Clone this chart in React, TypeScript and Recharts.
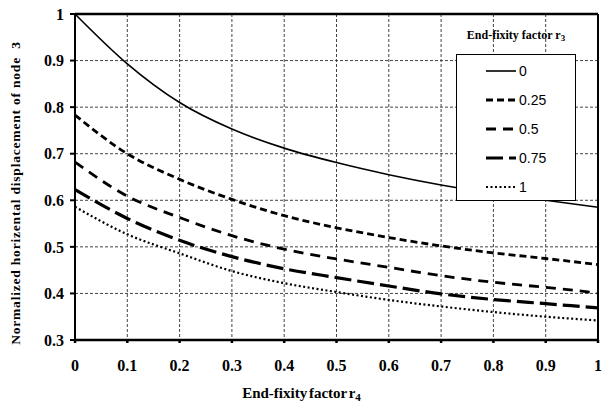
import { CartesianGrid, Legend, Line, LineChart, ReferenceLine, XAxis, YAxis } from "recharts";

const r4 = [0, 0.1, 0.2, 0.3, 0.4, 0.5, 0.6, 0.7, 0.8, 0.9, 1];
const r3Labels = ["0", "0.25", "0.5", "0.75", "1"];

const disp0 = [1.0, 0.893, 0.81, 0.753, 0.712, 0.681, 0.655, 0.633, 0.615, 0.6, 0.585];
const disp025 = [0.783, 0.7, 0.645, 0.602, 0.567, 0.541, 0.52, 0.502, 0.487, 0.475, 0.462];
const disp05 = [0.682, 0.609, 0.563, 0.524, 0.495, 0.474, 0.456, 0.438, 0.424, 0.413, 0.401];
const disp075 = [0.623, 0.561, 0.514, 0.479, 0.453, 0.434, 0.416, 0.399, 0.387, 0.378, 0.369];
const disp1 = [0.586, 0.527, 0.486, 0.448, 0.422, 0.403, 0.386, 0.372, 0.36, 0.35, 0.342];

const xTicks = [0, 0.1, 0.2, 0.3, 0.4, 0.5, 0.6, 0.7, 0.8, 0.9, 1];
const yTicks = [0.3, 0.4, 0.5, 0.6, 0.7, 0.8, 0.9, 1];

const data = r4.map((x, i) => ({
  x,
  s0: disp0[i],
  s025: disp025[i],
  s05: disp05[i],
  s075: disp075[i],
  s1: disp1[i],
}));

const series = [
  { key: "s0", dash: undefined, width: 1.6 },
  { key: "s025", dash: "7 4", width: 2.8 },
  { key: "s05", dash: "10 7", width: 2.8 },
  { key: "s075", dash: "17 6", width: 3.2 },
  { key: "s1", dash: "2 2.5", width: 2.2 },
];

const serif = "'Liberation Serif', 'Times New Roman', serif";
const sans = "'Liberation Sans', Arial, sans-serif";

function LegendBox() {
  return (
    <div style={{ width: 150, fontFamily: sans }}>
      <div
        style={{
          marginLeft: 16,
          width: 120,
          height: 32,
          paddingTop: 6,
          boxSizing: "border-box",
          textAlign: "center",
          fontFamily: serif,
          fontWeight: "bold",
          fontSize: 12,
          lineHeight: "14px",
          color: "#000",
        }}
      >
        End-fixity factor r<sub style={{ fontSize: 9, verticalAlign: -2 }}>3</sub>
      </div>
      <div
        style={{
          marginLeft: 16,
          width: 120,
          height: 147,
          boxSizing: "border-box",
          border: "1px solid #000",
          background: "#fff",
          paddingTop: 1.5,
        }}
      >
        {series.map((s, i) => (
          <div
            key={s.key}
            style={{ height: 29, display: "flex", alignItems: "center", paddingLeft: 29 }}
          >
            <svg width={30} height={10}>
              <line
                x1={0}
                y1={5}
                x2={30}
                y2={5}
                stroke="#000"
                strokeWidth={s.width}
                strokeDasharray={s.dash}
              />
            </svg>
            <span style={{ marginLeft: 3, fontSize: 14, color: "#000" }}>{r3Labels[i]}</span>
          </div>
        ))}
      </div>
    </div>
  );
}

function YLabel(props: any) {
  const vb = props.viewBox;
  const cx = 15;
  const cy = vb.y + vb.height / 2 + 16;
  return (
    <text
      x={cx}
      y={cy}
      transform={`rotate(-90, ${cx}, ${cy})`}
      textAnchor="middle"
      dominantBaseline="central"
      fontFamily={serif}
      fontWeight="bold"
      fontSize={13.5}
      style={{ letterSpacing: 0.8, whiteSpace: "pre" }}
      fill="#000"
    >
      {"Normalized horizental displacement of node  3"}
    </text>
  );
}

function XLabel(props: any) {
  const vb = props.viewBox;
  const cx = vb.x + vb.width / 2 - 35;
  return (
    <text
      x={cx}
      y={393}
      textAnchor="middle"
      dominantBaseline="central"
      fontFamily={serif}
      fontWeight="bold"
      fontSize={15}
      style={{ wordSpacing: -2 }}
      fill="#000"
    >
      End-fixity factor r
      <tspan fontSize={11} dy={4}>
        4
      </tspan>
    </text>
  );
}

export default function App() {
  return (
    <div style={{ position: "absolute", left: 0, top: 0, background: "#fff" }}>
      <LineChart
        width={603}
        height={410}
        data={data}
        margin={{ top: 14, right: 5, bottom: 0, left: 0 }}
      >
        <CartesianGrid stroke="#444" strokeDasharray="3 2" strokeWidth={1} />
        <XAxis
          dataKey="x"
          type="number"
          domain={[0, 1]}
          ticks={xTicks}
          tickFormatter={(v) => String(v)}
          stroke="#000"
          strokeWidth={2.5}
          tickSize={3}
          tick={{ fill: "#000", fontFamily: serif, fontWeight: "bold", fontSize: 16, dy: 15 }}
          height={70}
          label={<XLabel />}
        />
        <YAxis
          type="number"
          domain={[0.3, 1]}
          ticks={yTicks}
          tickFormatter={(v) => String(v)}
          stroke="#000"
          strokeWidth={2}
          tickSize={5}
          width={75}
          tick={{ fill: "#000", fontFamily: serif, fontWeight: "bold", fontSize: 16, dx: -4 }}
          label={<YLabel />}
        />
        <ReferenceLine y={1} stroke="#000" strokeWidth={2.5} />
        <ReferenceLine x={1} stroke="#000" strokeWidth={2} />
        <Legend
          layout="horizontal"
          verticalAlign="middle"
          align="center"
          content={() => <LegendBox />}
          wrapperStyle={{ left: 440, top: 22, width: 150 }}
        />
        {series.map((s) => (
          <Line
            key={s.key}
            dataKey={s.key}
            type="monotone"
            stroke="#000"
            strokeWidth={s.width}
            strokeDasharray={s.dash}
            dot={false}
            activeDot={false}
            isAnimationActive={false}
          />
        ))}
      </LineChart>
    </div>
  );
}
